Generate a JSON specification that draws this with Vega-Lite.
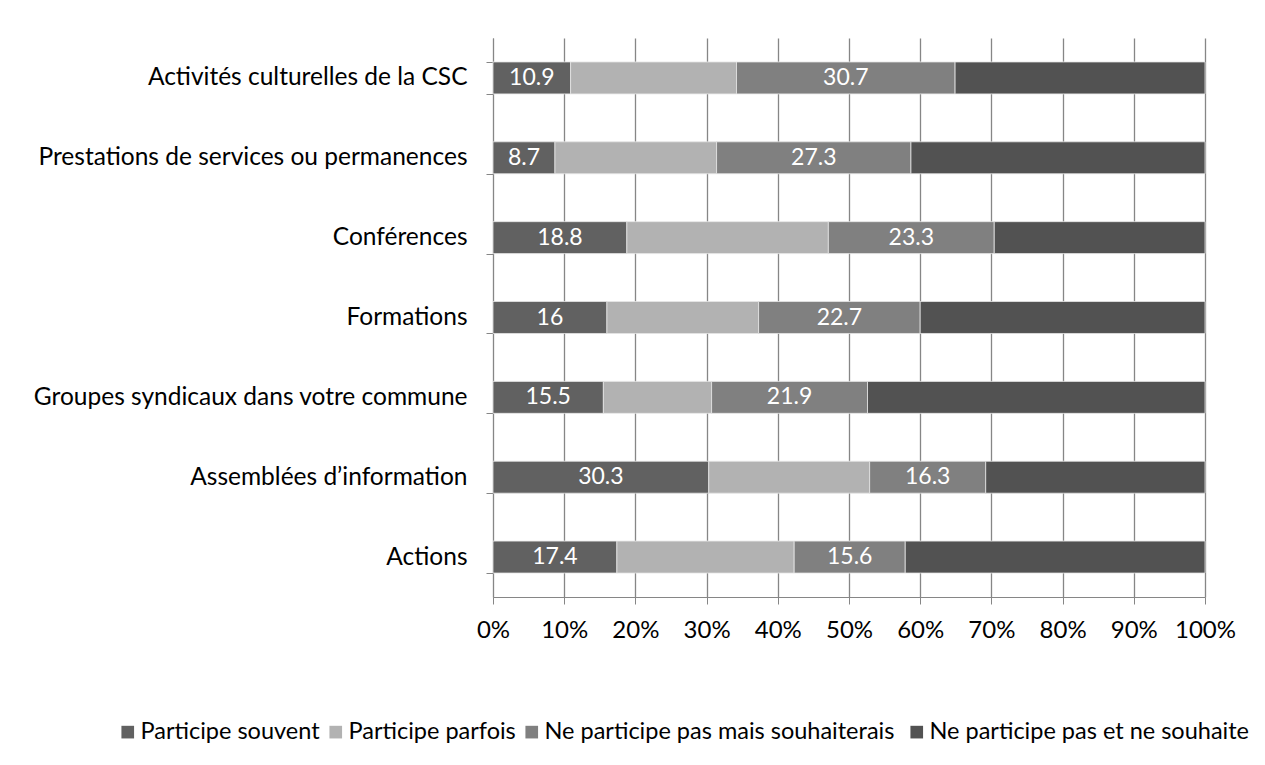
{
  "$schema": "https://vega.github.io/schema/vega-lite/v6.json",
  "width": 712,
  "height": 559,
  "autosize": {"type": "none"},
  "padding": {"left": 493, "top": 38, "right": 60, "bottom": 168},
  "background": "white",
  "config": {
    "font": "Lato",
    "view": {"stroke": null}
  },
  "data": {
    "values": [
      {"cat": "Activités culturelles de la CSC", "series": "Participe souvent", "ord": 1, "value": 10.9},
      {"cat": "Activités culturelles de la CSC", "series": "Participe parfois", "ord": 2, "value": 23.3},
      {"cat": "Activités culturelles de la CSC", "series": "Ne participe pas mais  souhaiterais", "ord": 3, "value": 30.7},
      {"cat": "Activités culturelles de la CSC", "series": "Ne participe pas et  ne souhaite", "ord": 4, "value": 35.1},
      {"cat": "Prestations de services ou permanences", "series": "Participe souvent", "ord": 1, "value": 8.7},
      {"cat": "Prestations de services ou permanences", "series": "Participe parfois", "ord": 2, "value": 22.7},
      {"cat": "Prestations de services ou permanences", "series": "Ne participe pas mais  souhaiterais", "ord": 3, "value": 27.3},
      {"cat": "Prestations de services ou permanences", "series": "Ne participe pas et  ne souhaite", "ord": 4, "value": 41.3},
      {"cat": "Conférences", "series": "Participe souvent", "ord": 1, "value": 18.8},
      {"cat": "Conférences", "series": "Participe parfois", "ord": 2, "value": 28.3},
      {"cat": "Conférences", "series": "Ne participe pas mais  souhaiterais", "ord": 3, "value": 23.3},
      {"cat": "Conférences", "series": "Ne participe pas et  ne souhaite", "ord": 4, "value": 29.6},
      {"cat": "Formations", "series": "Participe souvent", "ord": 1, "value": 16},
      {"cat": "Formations", "series": "Participe parfois", "ord": 2, "value": 21.3},
      {"cat": "Formations", "series": "Ne participe pas mais  souhaiterais", "ord": 3, "value": 22.7},
      {"cat": "Formations", "series": "Ne participe pas et  ne souhaite", "ord": 4, "value": 40.0},
      {"cat": "Groupes syndicaux dans votre commune", "series": "Participe souvent", "ord": 1, "value": 15.5},
      {"cat": "Groupes syndicaux dans votre commune", "series": "Participe parfois", "ord": 2, "value": 15.2},
      {"cat": "Groupes syndicaux dans votre commune", "series": "Ne participe pas mais  souhaiterais", "ord": 3, "value": 21.9},
      {"cat": "Groupes syndicaux dans votre commune", "series": "Ne participe pas et  ne souhaite", "ord": 4, "value": 47.4},
      {"cat": "Assemblées d’information", "series": "Participe souvent", "ord": 1, "value": 30.3},
      {"cat": "Assemblées d’information", "series": "Participe parfois", "ord": 2, "value": 22.6},
      {"cat": "Assemblées d’information", "series": "Ne participe pas mais  souhaiterais", "ord": 3, "value": 16.3},
      {"cat": "Assemblées d’information", "series": "Ne participe pas et  ne souhaite", "ord": 4, "value": 30.8},
      {"cat": "Actions ", "series": "Participe souvent", "ord": 1, "value": 17.4},
      {"cat": "Actions ", "series": "Participe parfois", "ord": 2, "value": 24.9},
      {"cat": "Actions ", "series": "Ne participe pas mais  souhaiterais", "ord": 3, "value": 15.6},
      {"cat": "Actions ", "series": "Ne participe pas et  ne souhaite", "ord": 4, "value": 42.1}
    ]
  },
  "encoding": {
    "y": {
      "field": "cat",
      "type": "nominal",
      "sort": ["Activités culturelles de la CSC", "Prestations de services ou permanences", "Conférences", "Formations", "Groupes syndicaux dans votre commune", "Assemblées d’information", "Actions "],
      "scale": {"paddingInner": 0.6, "paddingOuter": 0.3},
      "axis": {
        "title": null,
        "tickBand": "extent",
        "tickSize": 7,
        "tickColor": "#868686",
        "domainColor": "#868686",
        "labelFontSize": 24.5,
        "labelColor": "#000000",
        "labelPadding": 19,
        "labelLimit": 600
      }
    }
  },
  "layer": [
    {
      "mark": {"type": "bar", "stroke": "#e6e6e6", "strokeWidth": 0.8},
      "encoding": {
        "x": {
          "field": "value",
          "type": "quantitative",
          "stack": "normalize",
          "scale": {"domain": [0, 1], "nice": false},
          "axis": {
            "title": null,
            "format": ".0%",
            "values": [0, 0.1, 0.2, 0.3, 0.4, 0.5, 0.6, 0.7, 0.8, 0.9, 1],
            "grid": true,
            "gridColor": "#868686",
            "gridWidth": 1.3,
            "tickSize": 7,
            "tickColor": "#868686",
            "domainColor": "#868686",
            "labelFontSize": 24,
            "labelColor": "#000000",
            "labelPadding": 14,
            "labelFlush": false
          }
        },
        "order": {"field": "ord", "type": "quantitative"},
        "color": {
          "field": "series",
          "type": "nominal",
          "sort": ["Participe souvent", "Participe parfois", "Ne participe pas mais  souhaiterais", "Ne participe pas et  ne souhaite"],
          "scale": {
            "domain": ["Participe souvent", "Participe parfois", "Ne participe pas mais  souhaiterais", "Ne participe pas et  ne souhaite"],
            "range": ["#616161", "#b2b2b2", "#808080", "#525252"]
          },
          "legend": {
            "title": null,
            "orient": "none",
            "direction": "horizontal",
            "legendX": -377,
            "legendY": 682,
            "symbolType": "square",
            "symbolSize": 160,
            "symbolStrokeWidth": 0,
            "labelFontSize": 23.5,
            "labelColor": "#000000",
            "labelOffset": 1,
            "columnPadding": 4,
            "labelLimit": 600
          }
        }
      }
    },
    {
      "transform": [
        {"stack": "value", "groupby": ["cat"], "sort": [{"field": "ord", "order": "ascending"}], "offset": "normalize", "as": ["s0", "s1"]},
        {"filter": {"field": "ord", "oneOf": [1, 3]}},
        {"fold": ["s0", "s1"], "as": ["edge", "pos"]},
        {"aggregate": [{"op": "mean", "field": "pos", "as": "mid"}], "groupby": ["cat", "series", "ord", "value"]}
      ],
      "mark": {"type": "text", "color": "white", "fontSize": 23, "baseline": "middle", "align": "center"},
      "encoding": {
        "x": {"field": "mid", "type": "quantitative"},
        "text": {"field": "value", "type": "quantitative"}
      }
    }
  ]
}
